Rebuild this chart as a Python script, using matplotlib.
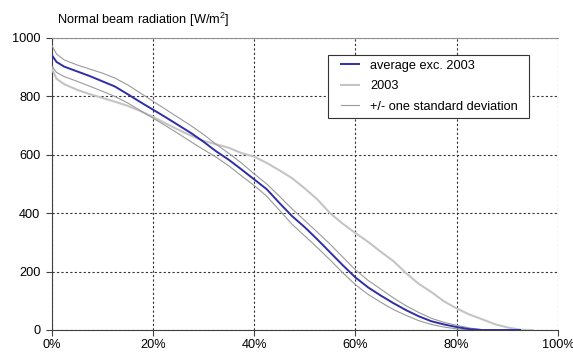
import matplotlib
matplotlib.use("Agg")
import matplotlib.pyplot as plt
from matplotlib.patches import Rectangle
from matplotlib.ticker import FuncFormatter

plt.rcParams['font.family'] = ['Liberation Sans', 'DejaVu Sans']
plt.rcParams['font.size'] = 9.2
plt.rcParams['mathtext.default'] = 'regular'

# share of hours (%) at which each curve is read
pct = [0, 1, 2.5, 5, 7.5, 10, 12.5, 15, 17.5, 20, 22.5, 25, 27.5, 30,
       32.5, 35, 37.5, 40, 42.5, 45, 47.5, 50, 52.5, 55, 57.5, 60, 62.5,
       65, 67.5, 70, 72.5, 75, 77.5, 80, 82.5, 85, 87.5, 90, 92.5, 95]

average = [943, 918, 902, 886, 870, 852, 834, 808, 781, 755, 729, 702, 675, 645,
           612, 583, 550, 516, 482, 435, 390, 352, 310, 266, 222, 180, 146,
           118, 92, 68, 47, 30, 19, 10, 3, 0, 0, 0, 0, None]

upper_sd = [977, 945, 925, 908, 894, 880, 863, 840, 812, 784, 756, 728, 700, 670,
            636, 605, 572, 535, 500, 458, 415, 375, 335, 294, 250, 206, 170,
            140, 110, 83, 60, 40, 26, 16, 7, 1, 0, None, None, None]

lower_sd = [905, 882, 868, 852, 835, 818, 800, 778, 752, 726, 700, 673, 645, 618,
            592, 562, 528, 495, 458, 410, 362, 322, 282, 240, 196, 155, 122,
            95, 70, 50, 32, 19, 10, 4, 0, 0, None, None, None, None]

year2003 = [898, 860, 842, 823, 808, 795, 782, 768, 750, 730, 708, 686, 666, 648,
            636, 624, 606, 594, 572, 547, 520, 485, 447, 400, 364, 332, 302,
            268, 236, 195, 158, 130, 98, 74, 53, 37, 20, 9, 1, 0]


def clean(xs, ys):
    pts = [(x, y) for x, y in zip(xs, ys) if y is not None]
    return [p[0] for p in pts], [p[1] for p in pts]


W, H = 573, 352
fig = plt.figure(figsize=(W / 100, H / 100), dpi=100)
ax = fig.add_axes([51.5 / W, 22 / H, 506.5 / W, 292 / H])

x, y = clean(pct, year2003)
ax.plot(x, y, color='#c4c4c4', lw=1.5, label='2003', zorder=3)
x, y = clean(pct, upper_sd)
ax.plot(x, y, color='#9a9a9a', lw=0.8, label='+/- one standard deviation', zorder=3)
x, y = clean(pct, lower_sd)
ax.plot(x, y, color='#9a9a9a', lw=0.8, zorder=3)
x, y = clean(pct, average)
ax.plot(x, y, color='#2e2ea8', lw=1.4, label='average exc. 2003', zorder=4)

ax.set_xlim(0, 100)
ax.set_ylim(0, 1000)
ax.set_xticks(range(0, 101, 20))
ax.set_yticks(range(0, 1001, 200))
ax.xaxis.set_major_formatter(FuncFormatter(lambda v, p: '%d%%' % v))
ax.tick_params(direction='out', length=4, width=0.8, color='#404040', pad=4)
ax.tick_params(axis='x', pad=2.5)

ax.grid(True, color='#333333', ls=(0, (2, 2)), lw=0.8)
ax.set_axisbelow(True)
ax.spines['right'].set_visible(False)
ax.spines['top'].set_color('#909090')
ax.spines['left'].set_color('#404040')
ax.spines['bottom'].set_color('#404040')

# legend frame drawn separately so the padding can match the original
fig.patches.append(Rectangle((327.7 / W, 1 - 117.7 / H), 201.6 / W, 62.7 / H,
                             transform=fig.transFigure, facecolor='white',
                             edgecolor='#333333', lw=0.8, zorder=5))

handles, labels = ax.get_legend_handles_labels()
order = [2, 0, 1]
leg = fig.legend([handles[i] for i in order], [labels[i] for i in order],
                 loc='upper left', bbox_to_anchor=(340.7 / W, 1 - 59.5 / H),
                 borderaxespad=0, borderpad=0, frameon=False,
                 handlelength=1.45, handletextpad=0.85, labelspacing=0.68)
leg.set_zorder(6)

fig.text(57 / W, 1 - 20 / H, 'Normal beam radiation [W/m$^2$]', va='center', ha='left')

fig.savefig('out.png', dpi=100)
